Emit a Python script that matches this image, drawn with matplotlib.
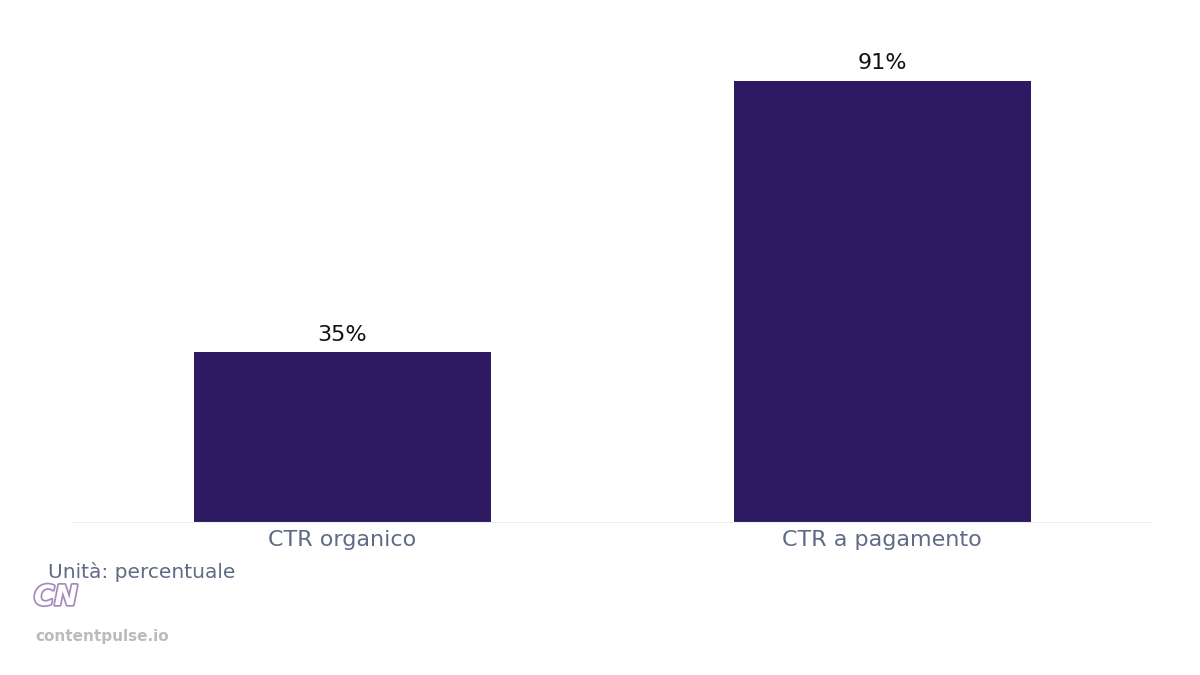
import matplotlib
matplotlib.use("Agg")
import matplotlib.pyplot as plt

categories = ["CTR organico", "CTR a pagamento"]
values = [35, 91]
labels = ["35%", "91%"]

fig = plt.figure(figsize=(12, 6.75), dpi=100)
W, H = 1200, 675
ax = fig.add_axes([72/W, 1-522/H, (1152-72)/W, (522-37)/H])
x = range(len(categories))
ax.bar(x, values, width=0.55, color="#2e1a62")
for xi, v, l in zip(x, values, labels):
    ax.text(xi, v + 1.5, l, ha="center", va="bottom", fontsize=16, color="#111111")
ax.set_xlim(-0.5, 1.5)
ax.set_ylim(0, 100)
ax.set_xticks(list(x))
ax.set_xticklabels(categories, fontsize=16, color="#5f6b85")
ax.tick_params(axis="x", length=0, pad=6)
ax.set_yticks([])
for s in ["top", "right", "left"]:
    ax.spines[s].set_visible(False)
ax.spines["bottom"].set_color("#eeeeee")

fig.text(48/W, 1-572/H, "Unità: percentuale", fontsize=14.5, color="#5f6b85", va="center")
fig.text(34/W, 1-597/H, "CN", fontsize=20, color="white", va="center", fontweight="bold",
         fontstyle="italic", path_effects=[__import__("matplotlib.patheffects", fromlist=["x"]).withStroke(linewidth=2.5, foreground="#a48bbf")])
fig.text(35/W, 1-637/H, "contentpulse.io", fontsize=11, color="#bbbbbb", va="center", fontweight="bold")
fig.savefig("out.png", dpi=100)
